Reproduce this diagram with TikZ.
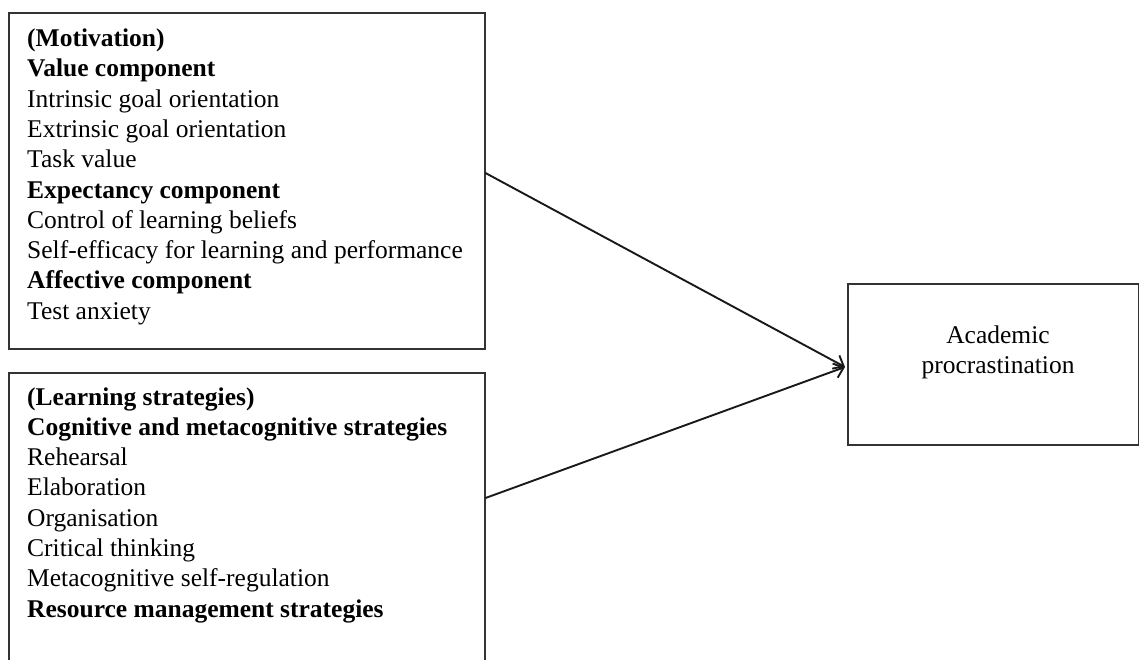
\documentclass[tikz,border=0pt]{standalone}
\usepackage{fontspec}
\setmainfont{Liberation Serif}
\usetikzlibrary{calc,arrows.meta}
\begin{document}
\begin{tikzpicture}[x=1pt,y=-1pt,
  box/.style={draw=black!80, line width=1.5pt, inner sep=0pt, anchor=north west},
  txt/.style={inner sep=0pt, anchor=base west, font=\fontsize{25.5}{30.3}\selectfont},
  conn/.style={draw=black!90, line width=1.9pt, -{Straight Barb[length=9pt,width=15pt,line width=1.9pt]}}]
\useasboundingbox (0,0) rectangle (1139,659);
\clip (0,0) rectangle (1139,659);
\node[box, minimum width=476pt, minimum height=336pt] (mot) at (8,12) {};
\node[box, minimum width=476pt, minimum height=330pt] (learn) at (8,372) {};
\node[box, minimum width=291pt, minimum height=161pt] (acad) at (847,283) {};
\node[txt] (mottext) at (27,46.5) {\parbox[t]{455pt}{\raggedright
\textbf{(Motivation)}\\
\textbf{Value component}\\
Intrinsic goal orientation\\
Extrinsic goal orientation\\
Task value\\
\textbf{Expectancy component}\\
Control of learning beliefs\\
Self-efficacy for learning and performance\\
\textbf{Affective component}\\
Test anxiety}};
\node[txt] (learntext) at (27,405) {\parbox[t]{455pt}{\raggedright
\textbf{(Learning strategies)}\\
\textbf{Cognitive and metacognitive strategies}\\
Rehearsal\\
Elaboration\\
Organisation\\
Critical thinking\\
Metacognitive self-regulation\\
\textbf{Resource management strategies}}};
\node[txt, anchor=base] (acadtext) at (998,343) {\parbox[t]{280pt}{\centering
Academic\\procrastination}};
\coordinate (tip) at (845,367);
\coordinate (s1) at ($(mot.north east)+(0,161)$);
\coordinate (s2) at ($(learn.north east)+(0,126)$);
\draw[conn] (s1) -- (tip);
\draw[conn] (s2) -- (tip);
\end{tikzpicture}
\end{document}
